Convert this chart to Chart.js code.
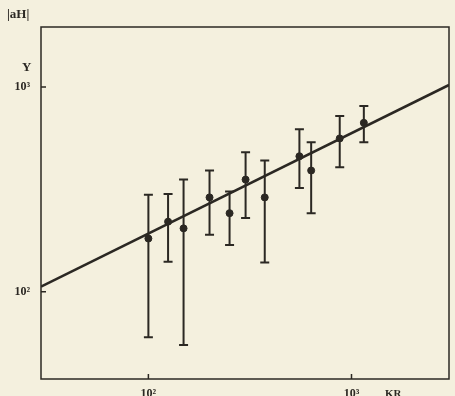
<!DOCTYPE html>
<html>
<head>
<meta charset="utf-8">
<script src="https://cdn.jsdelivr.net/npm/chart.js@4"></script>
<style>
  html, body { margin: 0; padding: 0; background: #f4f0de; }
  #wrap { width: 455px; height: 396px; }
</style>
</head>
<body>
<div id="wrap"><canvas id="chart" width="455" height="396"></canvas></div>
<script>
// data
const energy = [100, 125, 149, 200, 251, 301, 374, 554, 633, 875, 1150];
const flux = [182, 220, 204, 289, 242, 353, 289, 459, 391, 561, 668];
const fluxHigh = [298, 300, 353, 391, 309, 480, 438, 621, 537, 721, 807];
const fluxLow = [60, 140, 55, 190, 169, 229, 139, 321, 242, 405, 537];
const fitX = [29.6, 3020];
const fitY = [106, 1023];
const xTicks = [100, 1000];
const yTicks = [100, 1000];
const tickNames = { 100: '10²', 1000: '10³' };

const ink = '#2b2823';
const serif = '"Liberation Serif", "DejaVu Serif", serif';

// error bars, frame, inner tick marks, x tick labels and the axis names
const extras = {
    id: 'extras',
    afterDatasetsDraw(chart) {
        const ctx = chart.ctx;
        const xs = chart.scales.x;
        const ys = chart.scales.y;
        const area = chart.chartArea;
        ctx.save();
        ctx.strokeStyle = ink;
        ctx.lineWidth = 2;
        energy.forEach((e, i) => {
            const x = xs.getPixelForValue(e);
            const top = ys.getPixelForValue(fluxHigh[i]);
            const bot = ys.getPixelForValue(fluxLow[i]);
            ctx.beginPath();
            ctx.moveTo(x, top);
            ctx.lineTo(x, bot);
            ctx.moveTo(x - 4.5, top);
            ctx.lineTo(x + 4.5, top);
            ctx.moveTo(x - 4.5, bot);
            ctx.lineTo(x + 4.5, bot);
            ctx.stroke();
        });

        ctx.lineWidth = 1.5;
        ctx.strokeRect(area.left, area.top, area.right - area.left, area.bottom - area.top);

        ctx.beginPath();
        xTicks.forEach(v => {
            const x = xs.getPixelForValue(v);
            ctx.moveTo(x, area.bottom);
            ctx.lineTo(x, area.bottom - 5);
        });
        yTicks.forEach(v => {
            const y = ys.getPixelForValue(v);
            ctx.moveTo(area.left, y);
            ctx.lineTo(area.left + 5, y);
        });
        ctx.stroke();

        ctx.fillStyle = ink;
        ctx.font = 'bold 12px ' + serif;
        ctx.textAlign = 'center';
        ctx.textBaseline = 'top';
        xTicks.forEach(v => {
            ctx.fillText(tickNames[v], xs.getPixelForValue(v), area.bottom + 9);
        });
        ctx.textAlign = 'left';
        ctx.font = 'bold 11px ' + serif;
        ctx.fillText('KR', 385, area.bottom + 10);
        ctx.textBaseline = 'middle';
        ctx.font = 'bold 13px ' + serif;
        ctx.fillText('|aH|', 7, 15);
        ctx.fillText('Y', 22, 68);
        ctx.restore();
    }
};

new Chart(document.getElementById('chart'), {
    data: {
        datasets: [
            {
                type: 'line',
                data: fitX.map((x, i) => ({ x: x, y: fitY[i] })),
                borderColor: ink,
                borderWidth: 2.6,
                pointRadius: 0,
                fill: false
            },
            {
                type: 'scatter',
                data: energy.map((e, i) => ({ x: e, y: flux[i] })),
                backgroundColor: ink,
                borderColor: ink,
                pointRadius: 3.5
            }
        ]
    },
    options: {
        responsive: false,
        animation: false,
        layout: { padding: { top: 27, right: 6, left: 0, bottom: 0 } },
        plugins: { legend: { display: false }, tooltip: { enabled: false } },
        scales: {
            x: {
                type: 'logarithmic',
                min: fitX[0],
                max: fitX[1],
                grid: { display: false },
                border: { display: false },
                afterBuildTicks: s => { s.ticks = xTicks.map(v => ({ value: v })); },
                afterFit: s => { s.height = 17; },
                ticks: { display: false }
            },
            y: {
                type: 'logarithmic',
                min: 37.5,
                max: 1963,
                grid: { display: false },
                border: { display: false },
                afterBuildTicks: s => { s.ticks = yTicks.map(v => ({ value: v })); },
                afterFit: s => { s.width = 41; },
                ticks: {
                    padding: 3,
                    color: ink,
                    font: { family: serif, size: 12, weight: 'bold' },
                    callback: v => tickNames[v] || ''
                }
            }
        }
    },
    plugins: [extras]
});
</script>
</body>
</html>
